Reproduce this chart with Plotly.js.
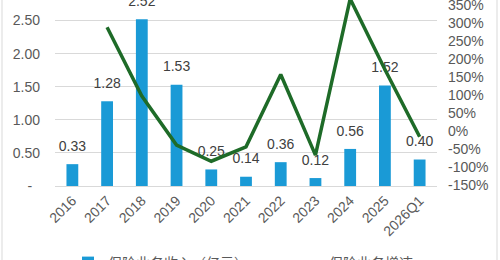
<!DOCTYPE html>
<html>
<head>
<meta charset="utf-8">
<script src="https://cdn.plot.ly/plotly-3.0.1.min.js"></script>
<style>
  html, body { margin: 0; padding: 0; background: #fff; }
  #chart { width: 500px; height: 260px; }
</style>
</head>
<body>
<div id="chart"></div>
<script>
// ---- data ----
const categories = ['2016','2017','2018','2019','2020','2021','2022','2023','2024','2025','2026Q1'];
const revenue = [0.33, 1.28, 2.52, 1.53, 0.25, 0.14, 0.36, 0.12, 0.56, 1.52, 0.40];
const revenueLabels = ['0.33','1.28','2.52','1.53','0.25','0.14','0.36','0.12','0.56','1.52','0.40'];
const growthCats = ['2017','2018','2019','2020','2021','2022','2023','2024','2025','2026Q1'];
const growth = [288, 97, -39, -84, -44, 157, -67, 367, 171, -16];
const leftTickVals = [0, 0.5, 1, 1.5, 2, 2.5];
const leftTickText = ['-\u00a0\u00a0', '0.50', '1.00', '1.50', '2.00', '2.50'];
const rightTickVals = [-150, -100, -50, 0, 50, 100, 150, 200, 250, 300, 350];
const rightTickText = ['-150%', '-100%', '-50%', '0%', '50%', '100%', '150%', '200%', '250%', '300%', '350%'];
const seriesNames = ['保险业务收入（亿元）', '保险业务增速'];

const font = 'Liberation Sans, Arial, Noto Sans CJK SC, sans-serif';
const grey = '#595959';

const traces = [
  {
    type: 'bar', x: categories, y: revenue, name: seriesNames[0], legend: 'legend',
    marker: { color: '#1a9ad6' }, width: 0.34, hoverinfo: 'none'
  },
  {
    type: 'scatter', mode: 'markers+text', x: categories, y: revenue,
    text: revenueLabels, textposition: 'top center',
    textfont: { family: font, size: 14, color: '#404040' },
    marker: { size: 14, color: 'rgba(0,0,0,0)' },
    showlegend: false, hoverinfo: 'none', cliponaxis: false
  },
  {
    type: 'scatter', mode: 'lines', x: growthCats, y: growth, yaxis: 'y2', legend: 'legend2',
    name: seriesNames[1], line: { color: '#1e6b28', width: 3.5 }, hoverinfo: 'none'
  }
];

const legendBase = {
  orientation: 'h', xref: 'container', yref: 'container',
  xanchor: 'left', y: 0.05, yanchor: 'top',
  font: { size: 14, color: grey }, bgcolor: 'rgba(0,0,0,0)'
};

const layout = {
  width: 500, height: 260,
  margin: { l: 55, r: 63, t: 0, b: 74, autoexpand: false },
  paper_bgcolor: '#fff', plot_bgcolor: '#fff',
  font: { family: font, size: 14, color: grey },
  bargap: 0.5,
  xaxis: {
    type: 'category', range: [-0.5, 10.5], tickangle: -45,
    showgrid: false, showline: true, linecolor: '#d9d9d9', linewidth: 1,
    ticks: '', tickfont: { size: 14, color: grey }, fixedrange: true
  },
  yaxis: {
    range: [0, 2.81], tickvals: leftTickVals, ticktext: leftTickText,
    showgrid: true, gridcolor: '#d9d9d9', gridwidth: 1, zeroline: false,
    ticks: '', ticklabelstandoff: 14, ticklabeloverflow: 'allow', tickfont: { size: 14, color: grey }
  },
  yaxis2: {
    overlaying: 'y', side: 'right', range: [-152.8, 363.9],
    tickvals: rightTickVals, ticktext: rightTickText,
    showgrid: false, zeroline: false, ticks: '', ticklabelstandoff: 10,
    ticklabeloverflow: 'allow',
    tickfont: { size: 14, color: grey }
  },
  showlegend: true,
  legend: Object.assign({}, legendBase, { x: 0.136 }),
  legend2: Object.assign({}, legendBase, { x: 0.578 }),
  shapes: [
    { type: 'line', xref: 'paper', yref: 'paper', x0: -53/382, x1: -53/382, y0: -0.5, y1: 1.1,
      line: { color: '#d9d9d9', width: 1 } },
    { type: 'line', xref: 'paper', yref: 'paper', x0: 442/382, x1: 442/382, y0: -0.5, y1: 1.1,
      line: { color: '#d9d9d9', width: 1 } }
  ]
};

Plotly.newPlot('chart', traces, layout, { staticPlot: true, displayModeBar: false });
</script>
</body>
</html>
